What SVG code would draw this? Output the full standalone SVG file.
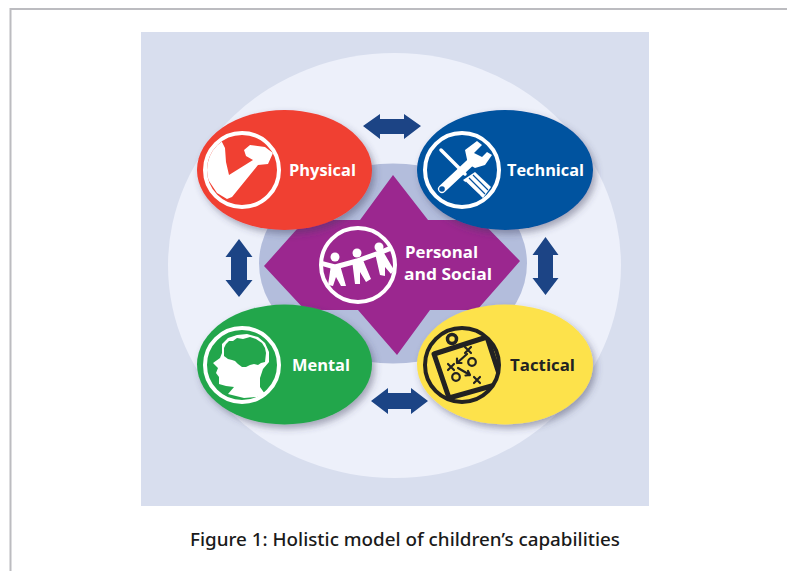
<svg xmlns="http://www.w3.org/2000/svg" width="787" height="571" viewBox="0 0 787 571">
<defs>
<filter id="sh" x="-15%" y="-15%" width="135%" height="135%"><feDropShadow dx="3" dy="4" stdDeviation="3.500" flood-color="#3a3f5c" flood-opacity="0.42"/></filter>
<clipPath id="cp-phys"><circle cx="242" cy="170" r="35"/></clipPath>
<clipPath id="cp-tact"><circle cx="462" cy="365" r="36"/></clipPath>
<clipPath id="cp-pers"><circle cx="358" cy="265" r="36"/></clipPath>
</defs>
<style>
text{font-family:"Open Sans","Liberation Sans",sans-serif;font-weight:700;font-size:16.500px}
.w{fill:#fff}.k{fill:#222}
.ring{fill:none;stroke:#fff;stroke-width:4}
.arr{fill:#1c4485}
.lim{fill:none;stroke:#fff;stroke-linecap:round;stroke-linejoin:round}
.pen{fill:none;stroke:#222;stroke-width:2.200;stroke-linecap:round;stroke-linejoin:round}
</style>
<rect width="787" height="571" fill="#fff"/>
<path d="M10.500 571V9H787" fill="none" stroke="#bcbcc0" stroke-width="2"/>
<rect x="141" y="32" width="508" height="474" fill="#d8deee"/>
<ellipse cx="394.500" cy="265.500" rx="226.500" ry="212.500" fill="#edf0fa"/>
<ellipse cx="393" cy="263.500" rx="134" ry="100" fill="#b3bddc"/>
<g id="connectors">
<path class="arr" d="M363 126L380 114V119H404V114L421 126L404 139V134H380V139Z"/>
<path class="arr" d="M371 401L388 388V393H411V388L428 401L411 414V409H388V414Z"/>
<path class="arr" d="M239 239L252.500 257H247V280H252.500L239 297L225.500 280H231V257H225.500Z"/>
<path class="arr" d="M545.500 237L558.500 255H553V278H558.500L545.500 295L532.500 278H538V255H532.500Z"/>
</g>
<g id="personal-social">
<path d="M393 175L428 220H480L520 261L477 310H430L397 355L358 310H305L264 266L305 220H360Z" fill="#9b278f"/>
<circle cx="358" cy="265" r="37" class="ring"/>
<g clip-path="url(#cp-pers)">
<path class="lim" stroke-width="5" d="M320 263L335 267L357 261L379 253L396 246"/>
<circle cx="335" cy="257" r="4.500" fill="#fff"/><circle cx="357" cy="253" r="4.500" fill="#fff"/><circle cx="379" cy="247" r="4.500" fill="#fff"/>
<path fill="#fff" d="M331 265H340L346 286L341 286L336 277L333 286L328 285Z"/>
<path fill="#fff" d="M352 260H363L371 279L366 282L360 272L360 284L355 284Z"/>
<path fill="#fff" d="M375 253H384L394 270L391 274L385 267L385 276L380 275Z"/>
</g>
<text class="w" x="405" y="258" textLength="73" lengthAdjust="spacingAndGlyphs">Personal</text>
<text class="w" x="404" y="280" textLength="88" lengthAdjust="spacingAndGlyphs">and Social</text>
</g>
<g id="physical">
<ellipse cx="284.500" cy="170" rx="87.500" ry="60" fill="#f03f33" filter="url(#sh)"/>
<circle cx="242" cy="170" r="37" class="ring"/>
<path clip-path="url(#cp-phys)" fill="#fff" d="M221.500 141L225 148L226 162L229 175L253 160L246 156L244 150L250 145L265 147L273 153L268 164L258 165L232 197L227 199L217 193L207 178L204 167L207 155L213 147Z"/>
<text class="w" x="289" y="176" textLength="67" lengthAdjust="spacingAndGlyphs">Physical</text>
</g>
<g id="technical">
<ellipse cx="505" cy="170" rx="88" ry="60" fill="#05529f" filter="url(#sh)"/>
<circle cx="462" cy="170" r="37" class="ring"/>
<path class="lim" stroke-width="3.500" d="M441 150L465 174"/>
<path fill="#fff" d="M463 180L475 172L491 187L483 198Z"/>
<path stroke="#05529f" stroke-width="1.200" fill="none" d="M469 178L485 194M473 175L488 190M465.500 182L480 196"/>
<path class="lim" stroke-width="8" d="M442 189L472 161"/>
<path fill="#fff" d="M465 150L477 141L482 145L474 153L482 157L487 152L492 155L485 165L475 168L468 164Z"/>
<circle cx="442" cy="189" r="2.800" fill="#05529f"/>
<text class="w" x="507" y="176" textLength="77" lengthAdjust="spacingAndGlyphs">Technical</text>
</g>
<g id="mental">
<ellipse cx="284.500" cy="364.500" rx="87.500" ry="60" fill="#23a64c" filter="url(#sh)"/>
<circle cx="242" cy="365" r="37" class="ring"/>
<path fill="#fff" d="M222 353L222 344L228 338L237 335L247 334L258 337L265 343L269 352L269 362L263 369L260 378L260 387L265 394L257 397L244 398L228 394L234 387L226 386L219 384L219 377L216 373L218 368L213 363L220 358Z"/>
<path fill="#23a64c" d="M224 348L226 344L229 341L233 341L237 338L243 339L250 337L256 339L262 343L265 348L266 353L265 362L261 363L258 365L254 364L250 365L246 367L242 367L238 364L235 361L232 360L228 359L224 356Z"/>
<text class="w" x="292" y="371" textLength="58" lengthAdjust="spacingAndGlyphs">Mental</text>
</g>
<g id="tactical">
<ellipse cx="505" cy="364.500" rx="88" ry="60" fill="#fde24c" filter="url(#sh)"/>
<g clip-path="url(#cp-tact)">
<circle cx="452" cy="339" r="4.500" fill="#fde24c" stroke="#222" stroke-width="3.500"/>
<path d="M434 354L487 337L502 383L449 398Z" fill="#fde24c" stroke="#222" stroke-width="5" stroke-linejoin="round"/>
</g>
<circle cx="462" cy="365" r="37" fill="none" stroke="#222" stroke-width="4"/>
<path class="pen" d="M465 347L471 353M471 347L465 353M448 364L454 370M454 364L448 370M474 377L480 383M480 377L474 383"/>
<circle cx="472" cy="362" r="3.800" class="pen"/><circle cx="456" cy="377" r="3.800" class="pen"/>
<path class="pen" stroke-width="1.500" d="M467 354L457 363M457 358.500V363H461.500M458 368L470 375M465.500 375.500L470 375L468 371"/>
<text class="k" x="510" y="371" textLength="65" lengthAdjust="spacingAndGlyphs">Tactical</text>
</g>
<text x="190" y="546" textLength="430" lengthAdjust="spacingAndGlyphs" style="font-family:'Noto Sans','Open Sans',sans-serif;font-weight:500;font-size:18px" fill="#1a1a1a">Figure 1: Holistic model of children’s capabilities</text>
</svg>
